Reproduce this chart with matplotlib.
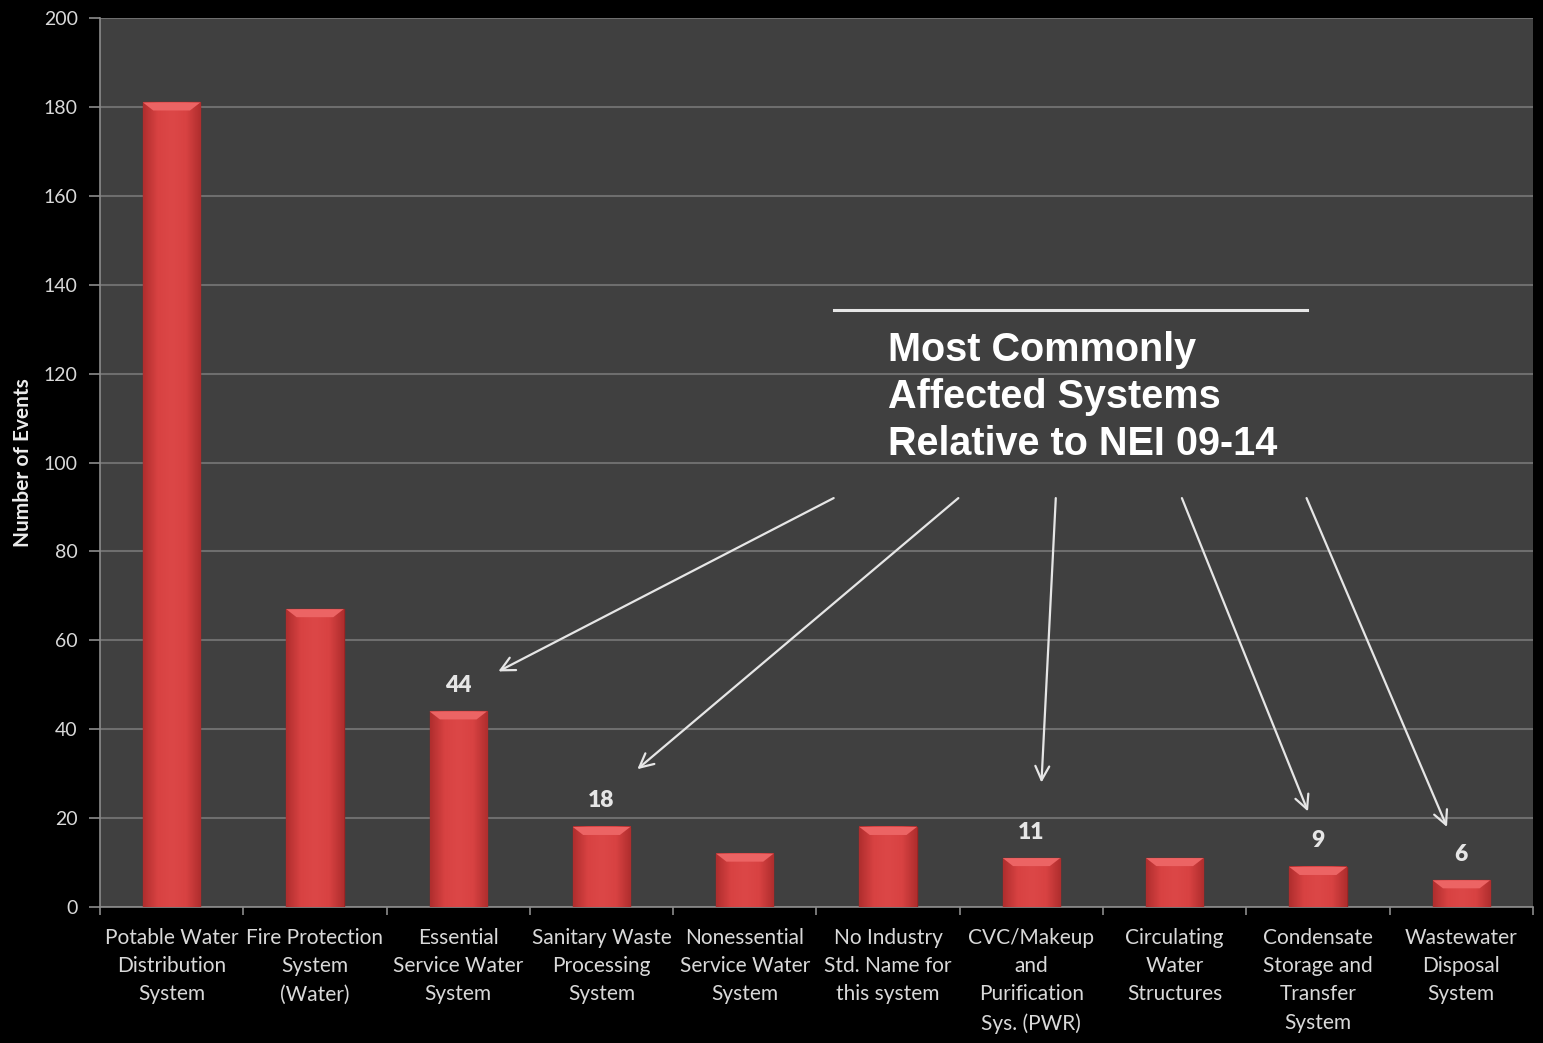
import numpy as np
import matplotlib
matplotlib.use('Agg')
import matplotlib.pyplot as plt
from matplotlib.colors import LinearSegmentedColormap

# data
systems = ['Potable Water\nDistribution\nSystem', 'Fire Protection\nSystem\n(Water)',
           'Essential\nService Water\nSystem', 'Sanitary Waste\nProcessing\nSystem',
           'Nonessential\nService Water\nSystem', 'No Industry\nStd. Name for\nthis system',
           'CVC/Makeup\nand\nPurification\nSys. (PWR)', 'Circulating\nWater\nStructures',
           'Condensate\nStorage and\nTransfer\nSystem', 'Wastewater\nDisposal\nSystem']
events = [181, 67, 44, 18, 12, 18, 11, 11, 9, 6]
labelled = [2, 3, 6, 8, 9]   # bars with value labels (NEI 09-14 systems)

# arrows: (start x, start y) -> (tip x, tip y) in data units
arrow_start_x = [4.62, 5.49, 6.17, 7.05, 7.92]
arrow_start_y = [92, 92, 92, 92, 92]
arrow_tip_x = [2.28, 3.25, 6.07, 7.93, 8.90]
arrow_tip_y = [53, 31, 28, 21.5, 18]

plt.rcParams['font.family'] = ['Lato', 'DejaVu Sans']

fig = plt.figure(figsize=(15.43, 10.43), dpi=100, facecolor='black')
ax = fig.add_axes([0.0648, 0.1304, 0.9287, 0.8523])
ax.set_facecolor('#404040')

x = np.arange(len(events))
width = 0.4
bars = ax.bar(x, events, width=width, color='#d63c3c', edgecolor='#9e2424',
              linewidth=1.0, zorder=3)

# horizontal shading on each bar
cmap = LinearSegmentedColormap.from_list('redbar', ['#b02e2e', '#d84242', '#dc4747', '#d84242', '#b02e2e'])
grad = np.linspace(0, 1, 64).reshape(1, -1)
for b in bars:
    x0 = b.get_x()
    h = b.get_height()
    ax.imshow(grad, extent=[x0, x0 + width, 0, h], aspect='auto', cmap=cmap, zorder=3.5)
    # top bevel highlight
    ax.fill([x0, x0 + width, x0 + width * 0.82, x0 + width * 0.18],
            [h, h, h - 1.8, h - 1.8], color='#ec6464', zorder=4, lw=0)

ax.set_xlim(-0.5, len(events) - 0.5)
ax.set_ylim(0, 200)
ax.set_yticks(range(0, 201, 20))
ax.set_xticks(x)
ax.set_xticklabels(systems, fontsize=15, color='#d9d9d9', linespacing=1.52)
ax.set_xticks(np.arange(-0.5, len(events), 1), minor=True)
ax.tick_params(axis='x', which='major', length=0, pad=15)
ax.tick_params(axis='x', which='minor', length=6, color='#8c8c8c', width=1.2)
ax.tick_params(axis='y', length=8, color='#8c8c8c', width=1.2, labelsize=14,
               labelcolor='#d9d9d9', pad=8)

ax.grid(axis='y', color='#6e6e6e', linewidth=1.5, zorder=1)
for s in ['top', 'right']:
    ax.spines[s].set_visible(False)
ax.spines['left'].set_color('#8c8c8c')
ax.spines['bottom'].set_color('#8c8c8c')
ax.spines['left'].set_linewidth(1.2)
ax.spines['bottom'].set_linewidth(1.2)

ax.set_ylabel('Number of Events', color='#ececec', fontsize=15, fontweight='bold', labelpad=8)

for i in labelled:
    ax.text(x[i], events[i] + 3.5, str(events[i]), ha='center', va='bottom',
            fontsize=16.5, fontweight='heavy', color='#e6e6e6', zorder=5)

# callout
ax.plot([4.62, 7.92], [134.3, 134.3], color='#e6e6e6', lw=2.2, zorder=5)
ax.text(5.0, 129.5, 'Most Commonly\nAffected Systems\nRelative to NEI 09-14',
        ha='left', va='top', fontsize=28.5, fontweight='bold', color='white',
        family=['Liberation Sans', 'DejaVu Sans'], linespacing=1.3, zorder=5)

for sx, sy, tx, ty in zip(arrow_start_x, arrow_start_y, arrow_tip_x, arrow_tip_y):
    ax.annotate('', xy=(tx, ty), xytext=(sx, sy),
                arrowprops=dict(arrowstyle='->', color='#e6e6e6', lw=1.6,
                                mutation_scale=25, shrinkA=0, shrinkB=0), zorder=5)

fig.savefig('out.png', dpi=100, facecolor='black')
